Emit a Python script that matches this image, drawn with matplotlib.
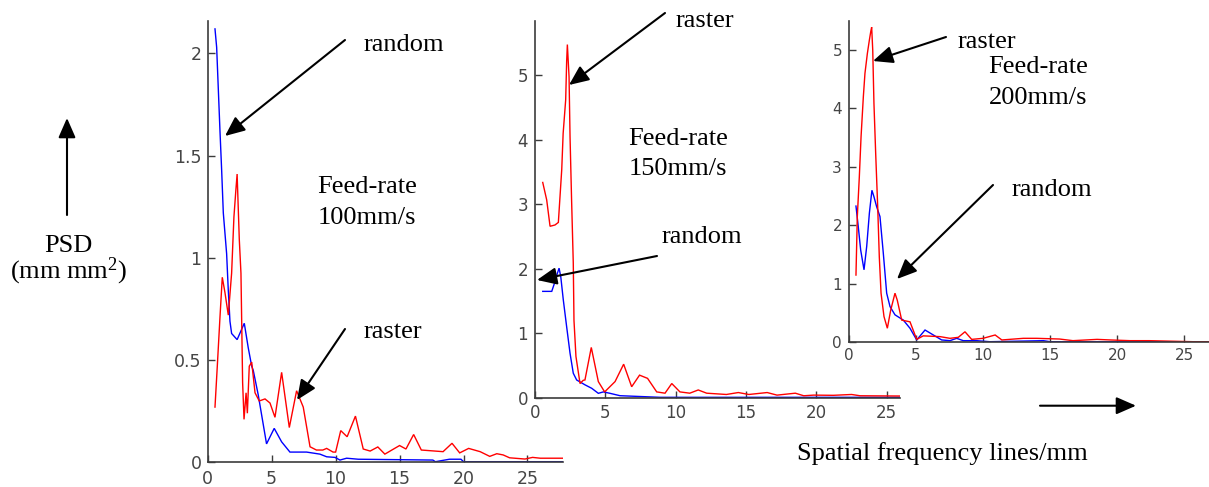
import matplotlib
matplotlib.use("Agg")
import matplotlib.pyplot as plt

# ---------------- data ----------------
xticks = [0, 5, 10, 15, 20, 25]

# Feed-rate 100 mm/s
p1_random_f = [0.57, 0.70, 0.96, 1.09, 1.22, 1.48, 1.61, 1.74, 1.87, 2.3, 2.86, 3.17, 3.44, 3.56, 3.95,
               4.6, 5.2, 5.78, 6.43, 7.3, 7.73, 8.77, 9.3, 9.95, 10.34, 10.86, 11.77, 17.6, 17.8, 18.9,
               19.8, 20.0, 27.8]
p1_random_v = [2.12, 2.03, 1.62, 1.43, 1.22, 1.02, 0.84, 0.69, 0.63, 0.60, 0.68, 0.56, 0.47, 0.45, 0.33,
               0.09, 0.166, 0.10, 0.05, 0.05, 0.05, 0.04, 0.027, 0.024, 0.011, 0.02, 0.015, 0.011, 0.003,
               0.015, 0.015, 0.003, 0.003]
p1_raster_f = [0.57, 0.75, 0.96, 1.14, 1.35, 1.61, 1.87, 2.05, 2.2, 2.3, 2.47, 2.6, 2.73, 2.84, 3.0, 3.1,
               3.25, 3.44, 3.7, 4.03, 4.48, 4.87, 5.26, 5.78, 6.38, 6.95, 7.47, 8.0, 8.5, 9.0, 9.3, 9.8,
               10.0, 10.4, 10.9, 11.55, 12.16, 12.7, 13.3, 13.85, 14.45, 15.0, 15.5, 16.1, 16.7, 18.4,
               19.1, 19.7, 20.4, 21.3, 22.05, 22.6, 23.1, 23.6, 24.8, 25.4, 26.0, 27.8]
p1_raster_v = [0.27, 0.47, 0.71, 0.905, 0.83, 0.72, 0.925, 1.2, 1.33, 1.41, 1.09, 0.925, 0.39, 0.21, 0.34,
               0.24, 0.47, 0.49, 0.34, 0.30, 0.31, 0.29, 0.22, 0.44, 0.17, 0.35, 0.27, 0.076, 0.06, 0.06,
               0.068, 0.05, 0.05, 0.155, 0.125, 0.226, 0.065, 0.055, 0.075, 0.04, 0.062, 0.082, 0.065,
               0.136, 0.06, 0.052, 0.093, 0.046, 0.068, 0.052, 0.029, 0.042, 0.036, 0.022, 0.016, 0.024,
               0.02, 0.02]

# Feed-rate 150 mm/s
p2_random_f = [0.55, 1.19, 1.42, 1.59, 1.71, 1.83, 2.01, 2.25, 2.49, 2.72, 2.96, 3.55, 4.03, 4.5, 4.86,
               5.33, 6.04, 8.9, 25.94]
p2_random_v = [1.65, 1.65, 1.80, 1.93, 2.01, 1.88, 1.52, 1.10, 0.69, 0.38, 0.275, 0.20, 0.146, 0.068,
               0.09, 0.068, 0.031, 0.006, 0.006]
p2_raster_f = [0.55, 0.83, 1.07, 1.42, 1.66, 1.9, 2.0, 2.18, 2.25, 2.3, 2.42, 2.49, 2.6, 2.72, 2.77, 2.91,
               3.2, 3.43, 3.55, 4.0, 4.5, 4.95, 5.69, 6.3, 6.87, 7.43, 8.0, 8.65, 9.24, 9.72, 10.3, 11.0,
               11.6, 12.2, 13.6, 14.45, 15.2, 16.5, 17.2, 18.5, 19.1, 19.8, 21.2, 22.5, 23.1, 25.94]
p2_raster_v = [3.34, 3.07, 2.66, 2.68, 2.72, 3.54, 4.1, 4.62, 5.22, 5.48, 4.98, 4.05, 3.07, 2.09, 1.2,
               0.64, 0.22, 0.27, 0.275, 0.78, 0.25, 0.09, 0.25, 0.52, 0.17, 0.35, 0.30, 0.09, 0.07, 0.22,
               0.09, 0.07, 0.12, 0.07, 0.05, 0.08, 0.05, 0.08, 0.04, 0.07, 0.03, 0.04, 0.037, 0.05, 0.03,
               0.026]

# Feed-rate 200 mm/s
p3_random_f = [0.52, 0.69, 0.87, 1.12, 1.32, 1.52, 1.71, 1.86, 2.06, 2.31, 2.56, 2.81, 3.06, 3.43, 4.05,
               4.55, 5.05, 5.67, 6.29, 6.91, 7.53, 8.03, 8.52, 9.52, 10.5, 14.5, 15.0, 26.85]
p3_random_v = [2.33, 1.98, 1.58, 1.24, 1.64, 2.21, 2.6, 2.49, 2.32, 2.15, 1.52, 0.84, 0.61, 0.47, 0.38,
               0.24, 0.04, 0.21, 0.125, 0.04, 0.028, 0.068, 0.028, 0.028, 0.01, 0.028, 0.01, 0.01]
p3_raster_f = [0.52, 0.62, 0.77, 0.9, 1.07, 1.19, 1.37, 1.52, 1.62, 1.69, 1.77, 1.86, 1.99, 2.14, 2.26,
               2.39, 2.61, 2.86, 3.11, 3.43, 3.6, 3.93, 4.55, 5.05, 5.54, 6.79, 7.53, 8.15, 8.65, 9.15,
               10.0, 10.9, 11.4, 13.0, 14.0, 15.7, 16.7, 18.5, 19.5, 20.95, 22.4, 25.7, 26.85]
p3_raster_v = [1.15, 2.15, 2.83, 3.52, 4.2, 4.6, 4.94, 5.17, 5.31, 5.39, 5.0, 4.09, 3.23, 2.32, 1.46,
               0.84, 0.44, 0.24, 0.55, 0.84, 0.72, 0.38, 0.35, 0.05, 0.11, 0.097, 0.068, 0.085, 0.18,
               0.05, 0.068, 0.125, 0.04, 0.068, 0.068, 0.056, 0.028, 0.05, 0.04, 0.028, 0.028, 0.01, 0.01]

p1_yticks = [0, 0.5, 1, 1.5, 2]
p1_ylabels = ["0", "0.5", "1", "1.5", "2"]
p23_yticks = [0, 1, 2, 3, 4, 5]

# ---------------- figure ----------------
W, H = 1209, 487
fig = plt.figure(figsize=(W / 100, H / 100), dpi=100)
fig.patch.set_facecolor("white")

serif = "Liberation Serif"
plt.rcParams["mathtext.fontset"] = "custom"
plt.rcParams["mathtext.rm"] = serif
plt.rcParams["mathtext.it"] = serif + ":italic"


def px_rect(left, right, top, bottom):
    return [left / W, (H - bottom) / H, (right - left) / W, (bottom - top) / H]


spine_col = "#3c3c3c"
tick_col = "#454545"


def make_panel(rect, xlim, ylim, yticks, ylabels, fs, xpad, ypad, series):
    ax = fig.add_axes(rect)
    ax.set_facecolor("none")
    for f, v, c in series:
        ax.plot(f, v, color=c, lw=1.0, solid_joinstyle="miter")
    ax.set_xlim(*xlim)
    ax.set_ylim(*ylim)
    ax.set_xticks(xticks)
    ax.set_xticklabels([str(t) for t in xticks])
    ax.set_yticks(yticks)
    ax.set_yticklabels(ylabels)
    for s in ("top", "right"):
        ax.spines[s].set_visible(False)
    for s in ("left", "bottom"):
        ax.spines[s].set_color(spine_col)
        ax.spines[s].set_linewidth(1.2)
    ax.tick_params(axis="both", direction="in", length=5, width=1.0, color=spine_col,
                   labelcolor=tick_col, labelsize=fs)
    ax.tick_params(axis="x", pad=xpad)
    ax.tick_params(axis="y", pad=ypad)
    for lab in ax.get_xticklabels() + ax.get_yticklabels():
        lab.set_fontfamily("DejaVu Sans")
    return ax


ax1 = make_panel(px_rect(207.7, 563.3, 20.7, 462.3), (0, 27.8), (0, 2.16), p1_yticks, p1_ylabels,
                 12.5, 5.5, 4.5,
                 [(p1_random_f, p1_random_v, "#0000ff"), (p1_raster_f, p1_raster_v, "#ff0000")])
ax2 = make_panel(px_rect(535, 900, 20.7, 397.7), (0, 25.94), (0, 5.85), p23_yticks,
                 [str(t) for t in p23_yticks], 12, 4.5, 5,
                 [(p2_random_f, p2_random_v, "#0000ff"), (p2_raster_f, p2_raster_v, "#ff0000")])
ax3 = make_panel(px_rect(849, 1209, 20.7, 342.3), (0, 26.85), (0, 5.5), p23_yticks,
                 [str(t) for t in p23_yticks], 11, 4, 5,
                 [(p3_random_f, p3_random_v, "#0000ff"), (p3_raster_f, p3_raster_v, "#ff0000")])

# ---------------- overlay for annotations (pixel coordinates) ----------------
ov = fig.add_axes([0, 0, 1, 1])
ov.set_xlim(0, W)
ov.set_ylim(H, 0)
ov.axis("off")
ov.set_facecolor("none")

fs_txt = 19


def txt(x, y, s, ha="left"):
    ov.text(x, y, s, ha=ha, va="baseline", fontsize=fs_txt, family=serif, color="black")


def arrow(start, tip):
    ov.annotate("", xy=tip, xytext=start,
                arrowprops=dict(arrowstyle="-|>,head_length=0.8,head_width=0.35",
                                mutation_scale=15, lw=1.5, color="black",
                                shrinkA=0, shrinkB=0))


# panel 1
txt(364, 51, "random")
arrow((345, 40), (225, 136))
txt(367, 193, "Feed-rate", ha="center")
txt(367, 224, "100mm/s", ha="center")
txt(364, 338, "raster")
arrow((345, 329), (297, 400))

# panel 2
txt(676, 27, "raster")
arrow((665, 13), (569, 85))
txt(678, 145, "Feed-rate", ha="center")
txt(678, 175, "150mm/s", ha="center")
txt(662, 243, "random")
arrow((657, 256), (537, 280))

# panel 3
txt(958, 48, "raster")
arrow((946, 37), (873, 61))
txt(1038, 73, "Feed-rate", ha="center")
txt(1038, 104, "200mm/s", ha="center")
txt(1012, 196, "random")
arrow((993, 185), (897, 279))

# axis descriptions
arrow((67, 215), (67, 118))
txt(68, 252, "PSD", ha="center")
txt(69, 278, r"(mm mm$^{2}$)", ha="center")
arrow((1040, 405.7), (1136, 405.7))
txt(797, 460, "Spatial frequency lines/mm")

fig.savefig("out.png", dpi=100, facecolor="white")
